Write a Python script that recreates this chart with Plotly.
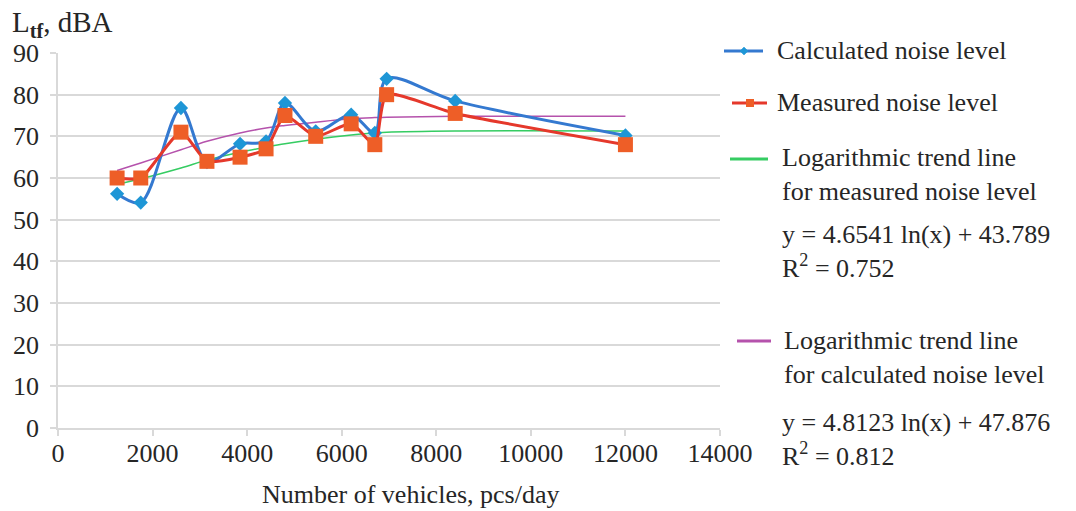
import plotly.graph_objects as go

# Traffic intensity, pcs/day
vehicles = [1250, 1750, 2600, 3150, 3850, 4400, 4800, 5450, 6200, 6700, 6950, 8400, 12000]
# Noise levels, dBA
calculated = [56.2, 54.1, 76.8, 63.8, 68.2, 68.8, 78.0, 71.2, 75.2, 70.8, 83.8, 78.5, 70.2]
measured = [60.0, 60.0, 71.0, 64.0, 65.0, 67.0, 75.0, 70.0, 73.0, 68.0, 80.0, 75.5, 68.0]
# Logarithmic trend lines evaluated at each traffic value
trend_calculated = [61.8, 63.6, 66.8, 68.8, 70.8, 72.0, 72.6, 73.4, 74.2, 74.5, 74.6, 74.8, 74.8]
trend_measured = [58.5, 59.8, 62.4, 64.3, 66.2, 67.4, 68.2, 69.3, 70.3, 70.8, 71.0, 71.3, 71.3]

x_ticks = [0, 2000, 4000, 6000, 8000, 10000, 12000, 14000]
x_tick_labels = ["0", "2000", "4000", "6000", "8000", "10000", "12000", "14000"]
y_ticks = [0, 10, 20, 30, 40, 50, 60, 70, 80, 90]

legend_labels = [
    "Calculated noise level",
    "Measured noise level",
    "Logarithmic trend line<br>for measured noise level",
    "Logarithmic trend line<br>for calculated noise level",
]
equations = [
    "y = 4.6541 ln(x) + 43.789<br>R<sup>2</sup> = 0.752",
    "y = 4.8123 ln(x) + 47.876<br>R<sup>2</sup> = 0.812",
]

BLUE_LINE, BLUE_MARK = "#3479D0", "#1E96D6"
RED_LINE, RED_MARK = "#E5382B", "#EE5E27"
GREEN = "#35CC62"
PURPLE = "#B552AC"
GRID = "#D9D9D9"
TEXT = "#262626"
FONT = "Liberation Serif"
FS = 26

W, H = 1076, 511
ML, MR, MT, MB = 58, 356, 53, 83
PW, PH = W - ML - MR, H - MT - MB


def px(x):
    return (x - ML) / PW


def py(y):
    return (H - MB - y) / PH


fig = go.Figure()

fig.add_trace(go.Scatter(x=vehicles, y=trend_measured, mode="lines",
                         line=dict(color=GREEN, width=1.5, shape="spline"),
                         showlegend=False))
fig.add_trace(go.Scatter(x=vehicles, y=trend_calculated, mode="lines",
                         line=dict(color=PURPLE, width=1.5, shape="spline"),
                         showlegend=False))
fig.add_trace(go.Scatter(x=vehicles, y=calculated, mode="lines+markers",
                         line=dict(color=BLUE_LINE, width=3, shape="spline", smoothing=0.9),
                         marker=dict(symbol="diamond", size=11, color=BLUE_MARK),
                         showlegend=False))
fig.add_trace(go.Scatter(x=vehicles, y=measured, mode="lines+markers",
                         line=dict(color=RED_LINE, width=3, shape="spline", smoothing=0.6),
                         marker=dict(symbol="square", size=15, color=RED_MARK),
                         showlegend=False))

# Legend drawn beside the plot
shapes = []
annotations = []
samples = [
    (724, 763, 51, BLUE_LINE),
    (732, 767, 103, RED_LINE),
    (730, 768, 159, GREEN),
    (737, 771, 341, PURPLE),
]
for x0, x1, yy, col in samples:
    shapes.append(dict(type="line", xref="paper", yref="paper",
                       x0=px(x0), x1=px(x1), y0=py(yy), y1=py(yy),
                       line=dict(color=col, width=3)))
# diamond marker of the calculated series
shapes.append(dict(type="path", xref="paper", yref="paper",
                   xsizemode="pixel", ysizemode="pixel",
                   xanchor=px(744), yanchor=py(51),
                   path="M -4 0 L 0 4 L 4 0 L 0 -4 Z",
                   fillcolor=BLUE_MARK, line=dict(color=BLUE_MARK, width=0.5)))
# square marker of the measured series
shapes.append(dict(type="rect", xref="paper", yref="paper",
                   xsizemode="pixel", ysizemode="pixel",
                   xanchor=px(750), yanchor=py(103),
                   x0=-4, x1=4, y0=-4, y1=4,
                   fillcolor=RED_MARK, line=dict(color=RED_MARK, width=0)))

legend_pos = [(775, 51), (775, 103), (780, 174), (782, 357)]
for (lx, ly), label in zip(legend_pos, legend_labels):
    annotations.append(dict(x=px(lx), y=py(ly), xref="paper", yref="paper",
                            text=label, showarrow=False, xanchor="left",
                            yanchor="middle", align="left",
                            font=dict(family=FONT, size=FS, color=TEXT)))
for (ex, ey), eq in zip([(780, 251), (780, 439)], equations):
    annotations.append(dict(x=px(ex), y=py(ey), xref="paper", yref="paper",
                            text=eq, showarrow=False, xanchor="left",
                            yanchor="middle", align="left",
                            font=dict(family=FONT, size=FS, color=TEXT)))

# Axis titles
annotations.append(dict(x=px(10), y=py(24), xref="paper", yref="paper",
                        text="L<sub><b>tf</b></sub>, dBA", showarrow=False,
                        xanchor="left", yanchor="middle",
                        font=dict(family=FONT, size=29, color=TEXT)))
annotations.append(dict(x=px(410), y=py(494), xref="paper", yref="paper",
                        text="Number of vehicles, pcs/day", showarrow=False,
                        xanchor="center", yanchor="middle",
                        font=dict(family=FONT, size=FS, color=TEXT)))

fig.update_layout(
    width=W, height=H,
    margin=dict(l=ML, r=MR, t=MT, b=MB, pad=0),
    paper_bgcolor="white", plot_bgcolor="white",
    font=dict(family=FONT, size=FS, color=TEXT),
    shapes=shapes, annotations=annotations,
    showlegend=False,
)
fig.update_xaxes(range=[0, 14000], tickvals=x_ticks, ticktext=x_tick_labels,
                 showgrid=False, zeroline=False, showline=True,
                 linecolor=GRID, linewidth=2,
                 ticks="outside", ticklen=6, tickcolor=GRID, tickwidth=1.5,
                 ticklabelstandoff=-5,
                 tickfont=dict(family=FONT, size=FS, color=TEXT))
fig.update_yaxes(range=[0, 90], tickvals=y_ticks, showgrid=True,
                 gridcolor=GRID, gridwidth=2, zeroline=False,
                 showline=True, linecolor=GRID, linewidth=1.5,
                 ticks="outside", ticklen=6, tickcolor=GRID, tickwidth=2,
                 ticklabelstandoff=6,
                 tickfont=dict(family=FONT, size=FS, color=TEXT))

fig.write_html("out.html")
